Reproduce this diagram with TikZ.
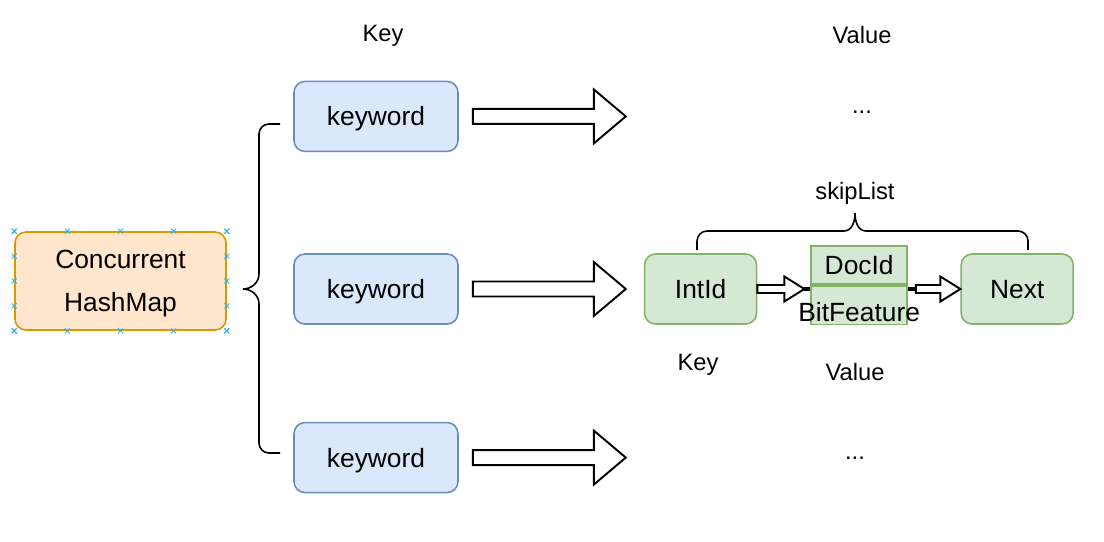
\documentclass[tikz,border=0pt]{standalone}
\usepackage{fontspec}
\setmainfont{Liberation Sans}
\usepackage{xcolor}
\usepackage{tikz}
\usetikzlibrary{positioning,calc}

\definecolor{mapfill}{HTML}{FFE6CC}
\definecolor{mapdraw}{HTML}{D79B00}
\definecolor{keyfill}{HTML}{DAE8FC}
\definecolor{keydraw}{HTML}{6C8EBF}
\definecolor{nodefill}{HTML}{D5E8D4}
\definecolor{nodedraw}{HTML}{82B366}
\definecolor{handle}{HTML}{29B6F2}

% hollow block arrow: start, end, shaft half width, head half width, head length
\newcommand{\hollowarrow}[5]{%
  \draw[blockarrow] let \p1=(#1), \p2=(#2) in
    (\x1,\y1+#3) -- (\x2-#5,\y1+#3) -- (\x2-#5,\y1+#4) -- (\x2,\y1)
    -- (\x2-#5,\y1-#4) -- (\x2-#5,\y1-#3) -- (\x1,\y1-#3) -- cycle;}

\begin{document}
\begin{tikzpicture}[
    mapbox/.style={draw=mapdraw,fill=mapfill,line width=0.9pt,rounded corners=0.22cm,
      minimum width=4.22cm,minimum height=1.96cm,align=center,text depth=0pt,
      font=\fontsize{15}{24.5}\selectfont},
    keybox/.style={draw=keydraw,fill=keyfill,line width=0.9pt,rounded corners=0.22cm,
      minimum width=3.28cm,minimum height=1.40cm,text depth=0pt,
      font=\fontsize{15}{18}\selectfont},
    entrybox/.style={draw=nodedraw,fill=nodefill,line width=0.9pt,rounded corners=0.22cm,
      minimum width=2.24cm,minimum height=1.40cm,text depth=0pt,
      font=\fontsize{15}{18}\selectfont},
    fieldbox/.style={draw=nodedraw,fill=nodefill,line width=0.9pt,
      minimum width=1.92cm,minimum height=0.77cm,inner sep=0pt,
      font=\fontsize{15}{18}\selectfont},
    tag/.style={font=\fontsize{13.5}{16}\selectfont},
    blockarrow/.style={draw=black,fill=white,line width=1.1pt,line join=miter},
    brace/.style={draw=black,line width=0.9pt}
  ]
    \useasboundingbox (0,0) rectangle (22.08,-10.82);

    \node[mapbox] (chm) at (2.41,-5.62) {Concurrent\\HashMap};
    \foreach \t in {0,0.25,0.5,0.75,1} {
      \foreach \p in {($(chm.north west)!\t!(chm.north east)$),
                      ($(chm.south west)!\t!(chm.south east)$),
                      ($(chm.north west)!\t!(chm.south west)$),
                      ($(chm.north east)!\t!(chm.south east)$)} {
        \draw[handle,line width=0.5pt] \p +(-0.05,-0.05) -- +(0.05,0.05)
          \p +(-0.05,0.05) -- +(0.05,-0.05);
      }
    }

    \node[keybox] (kwtwo) at (7.52,-5.78) {keyword};
    \node[keybox,above=2.02cm of kwtwo] (kwone) {keyword};
    \node[keybox,below=1.94cm of kwtwo] (kwthree) {keyword};

    \node[tag] (keytop) at (7.66,-0.72) {Key};
    \node[tag] (valuetop) at (17.24,-0.70) {Value};

    % left brace
    \draw[brace] (5.60,-2.48) -- (5.38,-2.48) to[out=180,in=90] (5.18,-2.68)
      -- (5.18,-5.48) to[out=-90,in=0] (4.86,-5.78) to[out=0,in=90] (5.18,-6.08)
      -- (5.18,-8.86) to[out=-90,in=180] (5.38,-9.06) -- (5.60,-9.06);

    % skip list entry
    \node[entrybox,right=3.70cm of kwtwo] (intid) {IntId};
    \node[fieldbox,anchor=south west] (docid) at ($(intid.east)+(1.06,0.08)$) {DocId};
    \node[fieldbox,below=0cm of docid] (bitfeat) {\raisebox{-0.33cm}[0pt][0pt]{\makebox[0pt]{BitFeature}}};
    \node[entrybox,right=4.06cm of intid] (next) {Next};

    \node[tag] (dotsone) at (17.24,-2.24) {...};
    \node[tag] (dotsthree) at (17.10,-9.16) {...};
    \node[tag] (skiplabel) at (17.10,-3.86) {skipList};
    \node[tag] (keyskip) at (13.96,-7.30) {Key};
    \node[tag] (valueskip) at (17.10,-7.44) {Value};

    % big arrows
    \coordinate (aonestart) at ($(kwone.east)+(0.28,0)$);
    \coordinate (aoneend) at ($(kwone.east)+(3.34,0)$);
    \coordinate (atwostart) at ($(kwtwo.east)+(0.28,0)$);
    \coordinate (atwoend) at ($(intid.west)+(-0.36,0)$);
    \coordinate (athreestart) at ($(kwthree.east)+(0.28,0)$);
    \coordinate (athreeend) at ($(kwthree.east)+(3.34,0)$);
    \hollowarrow{aonestart}{aoneend}{0.15cm}{0.54cm}{0.64cm}
    \hollowarrow{atwostart}{atwoend}{0.15cm}{0.54cm}{0.64cm}
    \hollowarrow{athreestart}{athreeend}{0.15cm}{0.54cm}{0.64cm}

    % small arrows
    \coordinate (sonetip) at ($(docid.south west |- intid.east)+(-0.12,0)$);
    \coordinate (stwostart) at ($(docid.south east |- intid.east)+(0.16,0)$);
    \hollowarrow{intid.east}{sonetip}{0.08cm}{0.25cm}{0.40cm}
    \draw[line width=2.2pt] (sonetip) -- (docid.south west |- intid.east);
    \draw[line width=2.2pt] (docid.south east |- intid.east) -- (stwostart);
    \hollowarrow{stwostart}{next.west}{0.08cm}{0.25cm}{0.40cm}

    % top brace
    \draw[brace] (13.94,-5.00) -- (13.94,-4.82) to[out=90,in=180] (14.14,-4.62)
      -- (16.88,-4.62) to[out=0,in=-90] (17.10,-4.26) to[out=-90,in=180] (17.32,-4.62)
      -- (20.36,-4.62) to[out=0,in=90] (20.56,-4.82) -- (20.56,-5.00);
  \end{tikzpicture}
\end{document}
